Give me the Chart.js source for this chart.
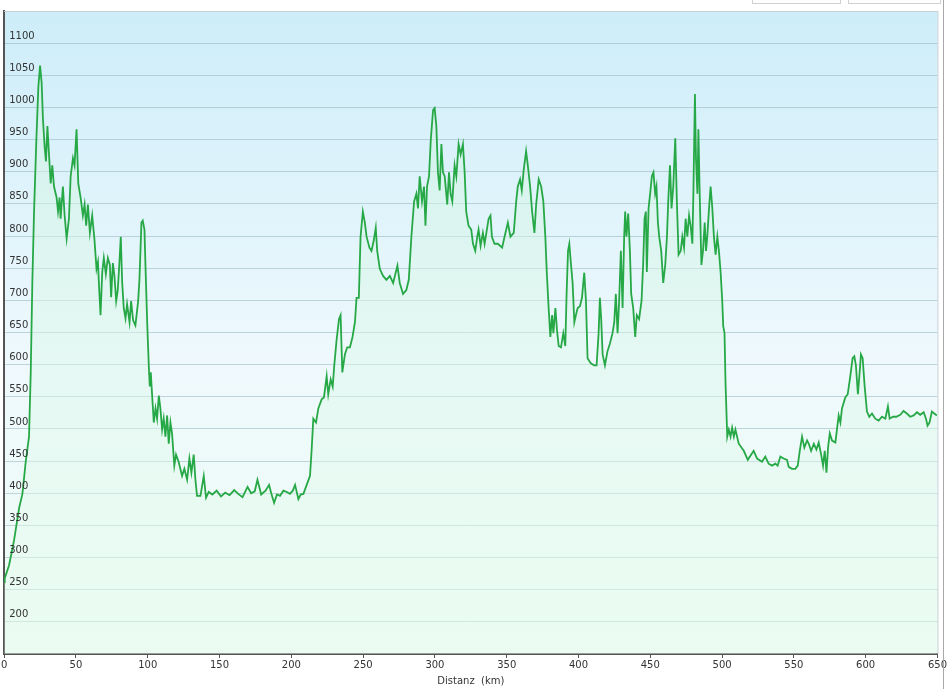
<!DOCTYPE html>
<html>
<head>
<meta charset="utf-8">
<script src="https://cdn.jsdelivr.net/npm/chart.js@4/dist/chart.umd.min.js"></script>
<style>
  body { margin: 0; background: #fff; }
  #wrap { position: relative; width: 948px; height: 689px; overflow: hidden; }
  .btn { position: absolute; top: -20px; height: 22px; background: #fff; border: 1px solid #d0d0d0; }
  #frame { position: absolute; left: 943px; top: 0; width: 1px; height: 689px; background: #a8a8a8; }
</style>
</head>
<body>
<div id="wrap">
  <canvas id="profile" width="948" height="689"></canvas>
  <div class="btn" style="left:752px;width:87px"></div>
  <div class="btn" style="left:848px;width:91px"></div>
  <div id="frame"></div>
</div>
<script>
// distance along the route (km)
var distKm = [
  0, 0.4, 3.4, 6.9, 10.4, 12.7, 15.0, 17.3, 18.5, 19.6, 20.8, 22.4, 23.8, 25.0, 26.1, 27.0,
  28.2, 29.1, 30.1, 31.2, 32.4, 33.5, 34.7, 36.5, 37.5, 38.6, 39.3, 40.9, 42.1, 43.5, 45.1,
  46.3, 47.9, 49.0, 50.4, 51.6, 53.2, 54.8, 56.0, 57.1, 58.3, 59.7, 61.3, 62.9, 64.3, 65.3,
  66.2, 67.1, 68.3, 69.4, 70.8, 72.2, 73.6, 74.5, 75.7, 76.8, 78.0, 79.1, 80.3, 81.2, 82.2,
  83.3, 84.5, 85.6, 87.3, 88.4, 89.8, 91.4, 93.3, 94.2, 95.6, 96.5, 97.7, 98.4, 99.6, 100.7,
  101.4, 102.1, 103.0, 104.2, 105.4, 106.5, 107.7, 108.8, 110.0, 111.1, 112.3, 113.5, 114.6,
  115.8, 116.9, 118.5, 119.7, 121.5, 123.9, 125.5, 127.4, 129.0, 130.4, 132.0, 133.2, 134.3,
  136.7, 139.0, 140.6, 142.5, 145.0, 148.0, 151.0, 154.0, 157.0, 160.2, 163.0, 166.0, 169.5,
  172.0, 174.5, 176.4, 179.0, 182.0, 184.5, 186.0, 188.0, 190.0, 192.1, 194.5, 196.8, 199.0,
  201.0, 202.6, 204.9, 206.5, 208.4, 210.7, 213.0, 214.1, 215.3, 217.2, 218.8, 221.1, 222.7,
  224.6, 225.7, 227.4, 228.8, 229.9, 231.5, 233.2, 234.3, 235.5, 237.3, 238.9, 240.8, 242.6,
  244.3, 245.4, 247.0, 248.2, 249.8, 251.2, 252.4, 254.4, 255.8, 257.4, 258.8, 259.8, 261.6,
  263.9, 266.2, 268.6, 270.9, 273.9, 275.5, 277.8, 280.1, 281.8, 283.6, 285.5, 287.1, 288.2,
  289.4, 291.0, 292.4, 293.4, 294.5, 295.9, 297.1, 298.7, 299.8, 301.0, 302.1, 303.3, 304.5,
  305.6, 306.8, 307.9, 308.6, 309.8, 310.9, 312.1, 313.7, 314.9, 316.5, 317.9, 319.5, 320.7,
  321.8, 323.4, 325.3, 326.5, 328.1, 329.5, 330.4, 331.8, 333.4, 334.6, 336.2, 337.4, 338.7,
  339.7, 341.5, 343.8, 346.8, 348.5, 350.8, 352.6, 354.9, 356.6, 357.7, 359.3, 360.5, 361.9,
  363.5, 364.7, 366.3, 367.7, 369.3, 370.5, 372.3, 374.0, 375.5, 376.9, 377.9, 379.2, 380.4,
  381.6, 382.5, 383.9, 385.0, 386.2, 387.8, 389.4, 390.8, 391.7, 392.7, 393.6, 394.8, 395.9,
  397.1, 398.2, 399.4, 401.0, 402.4, 404.0, 405.2, 406.3, 408.6, 410.9, 412.6, 414.0, 414.9,
  415.8, 416.8, 418.4, 420.2, 421.8, 423.7, 424.9, 426.0, 427.2, 428.3, 429.5, 430.7, 431.8,
  432.5, 433.4, 434.6, 435.8, 436.7, 438.1, 439.5, 440.6, 442.2, 443.9, 445.0, 446.0, 446.9,
  447.6, 448.8, 449.9, 451.1, 452.2, 453.4, 454.3, 455.3, 456.2, 457.6, 459.0, 460.4, 461.6,
  462.5, 463.7, 464.8, 466.0, 467.4, 468.5, 469.7, 471.2, 472.3, 473.5, 474.6, 475.8, 477.0,
  478.1, 479.3, 480.0, 481.1, 481.8, 482.8, 483.5, 484.4, 485.6, 486.7, 487.9, 488.8, 489.7,
  490.9, 492.0, 493.2, 494.3, 495.5, 496.7, 497.8, 499.0, 500.1, 500.8, 501.7, 502.4, 503.6,
  504.7, 505.9, 507.0, 508.2, 509.3, 511.6, 515.1, 517.9, 520.2, 522.0, 524.4, 527.8, 530.1,
  532.4, 534.8, 537.1, 538.7, 540.6, 542.9, 545.2, 546.4, 548.7, 551.0, 552.7, 554.1, 555.7,
  557.3, 559.2, 560.4, 562.0, 563.9, 565.7, 567.3, 569.0, 570.3, 571.5, 572.7, 573.8, 575.0,
  576.6, 578.9, 580.0, 581.2, 582.4, 583.5, 585.8, 587.5, 589.3, 590.9, 592.1, 593.2, 594.6,
  595.8, 596.7, 597.9, 599.3, 600.9, 602.5, 604.4, 606.7, 609.0, 611.4, 613.7, 615.5, 616.7,
  619.0, 621.3, 624.1, 626.4, 628.7, 631.0, 633.4, 635.7, 638.0, 640.4, 642.0, 643.1, 644.5,
  646.1, 647.8, 649.6
];

// elevation (m)
var elevM = [
  262, 268, 288, 327, 377, 399, 449, 488, 588, 727, 838, 949, 1032, 1065, 1038, 982,
  938, 916, 971, 927, 882, 910, 877, 860, 838, 860, 827, 877, 832, 796, 827,
  893, 921, 910, 966, 882, 860, 832, 849, 816, 849, 805, 832, 794, 749, 760,
  716, 677, 744, 766, 741, 766, 755, 705, 758, 738, 699, 716, 760, 799, 727,
  688, 672, 694, 666, 699, 669, 661, 699, 732, 821, 824, 810, 754, 666, 599,
  566, 588, 554, 510, 532, 516, 552, 532, 499, 516, 488, 521, 477,
  510, 493, 443, 460, 449, 427, 438, 421, 454, 432, 460, 421, 396,
  396, 427, 393, 402, 398, 404, 395, 401, 397, 405, 399, 394, 410,
  400, 403, 421, 398, 404, 413, 400, 385, 398, 396, 404, 402, 399,
  404, 413, 391, 398, 399, 413, 427, 466, 516, 510, 532, 546, 549,
  582, 554, 577, 566, 599, 638, 671, 677, 588, 616, 627, 627, 643,
  666, 704, 704, 799, 838, 821, 799, 782, 777, 793, 813, 777, 749,
  738, 732, 738, 727, 754, 727, 710, 716, 732, 799, 854, 866, 843,
  893, 854, 877, 816, 877, 893, 949, 996, 999, 971, 899, 871, 943,
  899, 893, 866, 849, 899, 866, 854, 910, 893, 943, 927, 943, 899,
  838, 816, 810, 788, 777, 799, 810, 785, 805, 788, 810, 827, 832,
  799, 788, 788, 782, 799, 821, 799, 805, 854, 877, 888, 871, 904,
  932, 910, 877, 838, 805, 849, 888, 877, 854, 799, 744, 688, 643,
  677, 649, 688, 654, 629, 627, 649, 629, 710, 777, 788, 755, 727,
  666, 677, 688, 691, 704, 743, 699, 610, 602, 599, 599, 649, 704,
  671, 616, 599, 621, 632, 649, 666, 710, 649, 699, 777, 688, 799,
  838, 799, 835, 777, 710, 688, 643, 677, 671, 699, 755, 827, 838,
  744, 843, 866, 893, 899, 866, 877, 821, 799, 777, 727, 755, 799,
  854, 910, 843, 877, 952, 854, 771, 777, 799, 782, 827, 799, 832,
  816, 788, 866, 1021, 921, 866, 966, 866, 755, 777, 821, 777, 799,
  843, 877, 843, 799, 771, 799, 777, 743, 699, 660, 649, 571, 488,
  499, 488, 502, 488, 499, 477, 466, 452, 460, 466, 454, 449, 457,
  446, 443, 446, 443, 457, 454, 452, 441, 438, 438, 443, 466, 488,
  471, 482, 477, 466, 477, 468, 479, 460, 443, 466, 432, 471, 493,
  482, 479, 499, 521, 510, 532, 549, 554, 582, 610, 613, 599, 554,
  588, 616, 610, 566, 527, 519, 524, 516, 513, 519, 516, 535, 516,
  519, 519, 522, 528, 524, 519, 521, 526, 522, 526, 516, 505, 510,
  527, 524, 521
];

var xTickStep = 50;
var yTicks = [200, 250, 300, 350, 400, 450, 500, 550, 600, 650, 700, 750, 800, 850, 900, 950, 1000, 1050, 1100];

var points = distKm.map(function (d, i) { return { x: d, y: elevM[i] }; });

var plotBackground = {
  id: 'plotBackground',
  beforeDraw: function (chart) {
    var a = chart.chartArea, c = chart.ctx;
    var g = c.createLinearGradient(0, a.top, 0, a.bottom);
    g.addColorStop(0, '#cdedf9');
    g.addColorStop(0.55, '#eff9fd');
    g.addColorStop(1, '#edfcf3');
    c.save();
    c.fillStyle = g;
    c.fillRect(a.left, a.top, a.right - a.left, a.bottom - a.top);
    c.restore();
  },
  afterDraw: function (chart) {
    var a = chart.chartArea, c = chart.ctx;
    c.save();
    c.strokeStyle = '#c4cfd4';
    c.lineWidth = 1;
    c.beginPath();
    c.moveTo(a.right + 0.5, a.top);
    c.lineTo(a.right + 0.5, a.bottom);
    c.moveTo(a.left, a.top + 0.5);
    c.lineTo(a.right, a.top + 0.5);
    c.stroke();
    c.restore();
  }
};

var ctx = document.getElementById('profile');
var profileChart = new Chart(ctx, {
  type: 'line',
  data: {
    datasets: [{
      label: 'Höhe',
      data: points,
      borderColor: '#27a846',
      borderWidth: 1.8,
      pointRadius: 0,
      tension: 0,
      fill: 'start',
      backgroundColor: function (context) {
        var a = context.chart.chartArea;
        if (!a) return 'rgba(210,245,225,0.4)';
        var g = context.chart.ctx.createLinearGradient(0, a.top, 0, a.bottom);
        g.addColorStop(0, 'rgba(205,242,222,0.5)');
        g.addColorStop(1, 'rgba(232,252,240,0.45)');
        return g;
      }
    }]
  },
  options: {
    responsive: false,
    animation: false,
    layout: { padding: { top: 10, right: 8, left: 3, bottom: 0 } },
    scales: {
      x: {
        type: 'linear',
        min: 0,
        max: 650,
        afterFit: function (scale) { scale.height = 35; },
        ticks: {
          stepSize: xTickStep,
          padding: 1,
          maxRotation: 0,
          color: '#333',
          font: { family: 'DejaVu Sans', size: 10 }
        },
        grid: { drawOnChartArea: false, tickLength: 4, color: '#555' },
        border: { color: '#555', width: 2 },
        title: {
          display: true,
          text: 'Distanz  (km)',
          color: '#333',
          padding: { top: 0, bottom: 2 },
          font: { family: 'DejaVu Sans', size: 10 }
        }
      },
      y: {
        min: 150,
        max: 1150,
        afterFit: function (scale) { scale.width = 1; },
        afterBuildTicks: function (scale) {
          scale.ticks = yTicks.map(function (v) { return { value: v }; });
        },
        ticks: {
          z: 1,
          mirror: true,
          padding: 5,
          labelOffset: -7,
          color: '#333',
          font: { family: 'DejaVu Sans', size: 10 },
          callback: function (v) { return String(v); }
        },
        grid: { color: 'rgba(150,180,190,0.55)', lineWidth: 1, drawTicks: false },
        border: { color: '#555', width: 2 }
      }
    },
    plugins: {
      legend: { display: false },
      tooltip: { enabled: false }
    }
  },
  plugins: [plotBackground]
});
</script>
</body>
</html>
